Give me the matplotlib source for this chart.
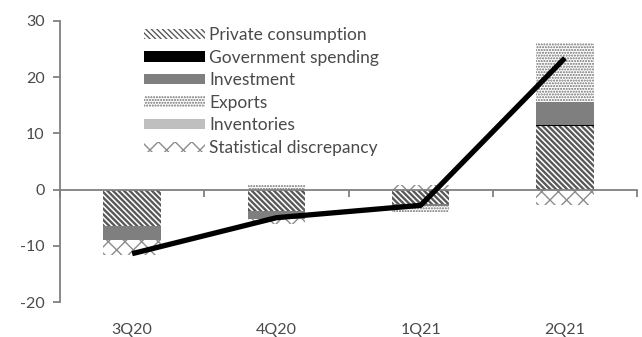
import matplotlib
matplotlib.use("Agg")
import matplotlib.pyplot as plt
import numpy as np

quarters = ["3Q20", "4Q20", "1Q21", "2Q21"]
private_consumption = [-6.5, -3.75, -2.5, 11.25]
government_spending = [0.0, 0.0, 0.0, 0.3]
investment = [-2.5, -1.4, -0.5, 4.0]
exports = [0.0, 0.9, -0.9, 10.6]
inventories = [0.0, 0.0, 0.0, 0.0]
statistical_discrepancy = [-2.7, -0.9, 0.9, -2.7]
gdp_growth = [-11.4, -5.0, -2.8, 23.4]

plt.rcParams["font.family"] = ["Lato", "DejaVu Sans"]
plt.rcParams["axes.unicode_minus"] = False

fig = plt.figure(figsize=(6.42, 3.37), dpi=100)
ax = fig.add_axes([60 / 642, 35 / 337, 577 / 642, 281 / 337])

x = np.arange(len(quarters))
width = 0.4

components = [
    ("Private consumption", private_consumption, dict(facecolor="white", edgecolor="#595959", hatch="\\" * 6, hlw=1.7)),
    ("Government spending", government_spending, dict(facecolor="black", edgecolor="black", hatch=None, hlw=1.0)),
    ("Investment", investment, dict(facecolor="#7f7f7f", edgecolor="#7f7f7f", hatch=None, hlw=1.0)),
    ("Exports", exports, dict(facecolor="white", edgecolor="#6e6e6e", hatch="." * 6, hlw=1.0)),
    ("Inventories", inventories, dict(facecolor="#bfbfbf", edgecolor="#bfbfbf", hatch=None, hlw=1.0)),
    ("Statistical discrepancy", statistical_discrepancy, dict(facecolor="white", edgecolor="#8c8c8c", hatch="xx", hlw=1.0)),
]

pos_base = np.zeros(len(quarters))
neg_base = np.zeros(len(quarters))
handles = []
for name, vals, st in components:
    vals = np.asarray(vals, dtype=float)
    bottoms = np.where(vals >= 0, pos_base, neg_base)
    plt.rcParams["hatch.linewidth"] = st["hlw"]
    bars = ax.bar(x, vals, width, bottom=bottoms, facecolor=st["facecolor"],
                  edgecolor=st["edgecolor"], hatch=st["hatch"], linewidth=0,
                  label=name, zorder=2)
    handles.append(bars)
    pos_base = pos_base + np.where(vals >= 0, vals, 0)
    neg_base = neg_base + np.where(vals < 0, vals, 0)

ax.plot(x, gdp_growth, color="black", linewidth=3.8, solid_capstyle="butt", zorder=4)

ax.set_xlim(-0.5, len(quarters) - 0.5)
ax.set_ylim(-20, 30)
ax.set_yticks(np.arange(-20, 31, 10))

axis_color = "#808080"
text_color = "#4a4a4a"
for side in ["top", "right", "bottom"]:
    ax.spines[side].set_visible(False)
ax.spines["left"].set_color(axis_color)
ax.spines["left"].set_linewidth(1.3)
ax.tick_params(axis="y", colors=axis_color, labelcolor=text_color, labelsize=11.5,
               length=5, width=1.3, pad=6)
ax.set_xticks(x)
ax.set_xticklabels(quarters)
ax.tick_params(axis="x", length=0, labelcolor=text_color, labelsize=11.5, pad=15)

# zero line with category-boundary tick marks
zero_axis = ax.secondary_xaxis(0.4)
zero_axis.spines["bottom"].set_color(axis_color)
zero_axis.spines["bottom"].set_linewidth(1.3)
zero_axis.set_xticks(np.arange(-0.5, len(quarters), 1.0))
zero_axis.tick_params(axis="x", colors=axis_color, length=5, width=1.3, labelbottom=False)
zero_axis.set_zorder(3)

leg = ax.legend(handles=handles, loc="upper left", bbox_to_anchor=(144 / 642, 1 - 27 / 337),
                bbox_transform=fig.transFigure, frameon=False, fontsize=12.5,
                handlelength=3.5, handleheight=0.55, handletextpad=0.25,
                labelspacing=0.38, borderpad=0, borderaxespad=0)
for t in leg.get_texts():
    t.set_color(text_color)

fig.savefig("out.png", dpi=100)
